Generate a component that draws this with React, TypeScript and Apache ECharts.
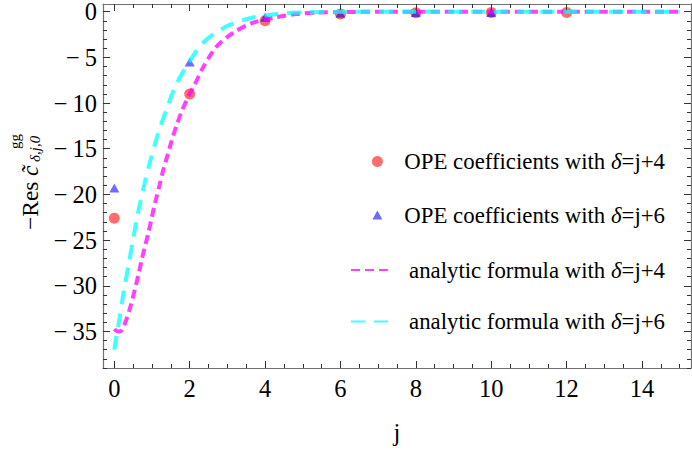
import React, { useEffect, useRef } from "react";
import * as echarts from "echarts";

// ---- data ----
const opeJ4 = [0, 2, 4, 6, 8, 10, 12];
const opeV4 = [-22.6, -9.0, -1.0, -0.25, -0.12, -0.1, -0.1];
const opeJ6 = [0, 2, 4, 6, 8, 10];
const opeV6 = [-19.3, -5.5, -0.6, -0.18, -0.1, -0.08];

const anaJ4 = [0, 0.06, 0.12, 0.2, 0.32, 0.44, 0.54, 0.64, 0.73, 0.82, 0.91, 1.0, 1.09, 1.2, 1.3, 1.4, 1.51, 1.64, 1.79, 2.0, 2.13, 2.37, 2.72, 3.16, 3.69, 4.31, 4.84, 5.4, 6, 7, 8, 10, 12, 15];
const anaV4 = [-34.75, -34.95, -35.0, -34.85, -33.7, -32.1, -30.5, -28.8, -27.1, -25.6, -24.1, -22.4, -20.8, -19.0, -17.3, -15.9, -14.3, -12.6, -10.9, -9.0, -8.0, -6.0, -3.8, -2.3, -1.2, -0.6, -0.25, -0.1, -0.04, -0.01, 0, 0, 0, 0];
const anaJ6 = [0, 0.14, 0.25, 0.38, 0.5, 0.63, 0.78, 0.95, 1.15, 1.38, 1.64, 2.0, 2.38, 2.98, 3.6, 4.31, 5.0, 6, 7, 8, 10, 12, 15];
const anaV6 = [-37.0, -33.5, -30.6, -27.7, -24.9, -22.0, -19.2, -16.4, -13.5, -10.75, -8.0, -5.4, -3.3, -1.6, -0.72, -0.25, -0.08, -0.02, 0, 0, 0, 0, 0];

const xMajorTicks = [0, 2, 4, 6, 8, 10, 12, 14];
const xMinorTicks = [0.5, 1, 1.5, 2.5, 3, 3.5, 4.5, 5, 5.5, 6.5, 7, 7.5, 8.5, 9, 9.5, 10.5, 11, 11.5, 12.5, 13, 13.5, 14.5, 15];
const yMajorTicks = [-35, -30, -25, -20, -15, -10, -5, 0];
const yMinorTicks = [-39, -38, -37, -36, -34, -33, -32, -31, -29, -28, -27, -26, -24, -23, -22, -21, -19, -18, -17, -16, -14, -13, -12, -11, -9, -8, -7, -6, -4, -3, -2, -1];

const names = [
  "OPE coefficients with \u03b4=j+4",
  "OPE coefficients with \u03b4=j+6",
  "analytic formula with \u03b4=j+4",
  "analytic formula with \u03b4=j+6",
];

const FONT = "Liberation Serif";
const LABEL_FONT = "24.5px 'Liberation Serif', serif";
const FRAME = "#707070";
const TICK = "#333";

const pairs = (xs: number[], ys: number[]) => xs.map((x, i) => [x, ys[i]]);
const fmtY = (v: number) => (Math.round(v) === 0 ? "0" : "\u2212\u2009" + Math.abs(Math.round(v)));

export default function App() {
  const ref = useRef<HTMLDivElement>(null);
  useEffect(() => {
    if (!ref.current) return;
    const chart = echarts.init(ref.current, undefined, { renderer: "svg" });
    const xRange = { min: -0.3, max: 15.3 };
    const yRange = { min: -39, max: 0.84 };
    const xAx = (position: string, ticks: number[], len: number, main: boolean) => ({
      type: "value",
      ...xRange,
      position,
      axisLine: { show: main, onZero: false, lineStyle: { color: FRAME, width: 1.2 } },
      axisTick: { show: true, inside: true, length: len, customValues: ticks, lineStyle: { color: TICK, width: 1 } },
      axisLabel: { show: false },
      splitLine: { show: false },
      ...(main && position === "bottom"
        ? { name: "j", nameLocation: "middle", nameGap: 52, nameTextStyle: { fontFamily: FONT, fontSize: 24.5, color: "#000" } }
        : {}),
    });
    const yAx = (position: string, ticks: number[], len: number, main: boolean) => ({
      type: "value",
      ...yRange,
      position,
      axisLine: { show: main, onZero: false, lineStyle: { color: FRAME, width: 1.2 } },
      axisTick: { show: true, inside: true, length: len, customValues: ticks, lineStyle: { color: TICK, width: 1 } },
      axisLabel: { show: false },
      splitLine: { show: false },
    });

    const legendText = (name: string) => {
      const parts = name.split("\u03b4");
      return "{n|" + parts[0] + "}{d|\u03b4}{n|" + parts[1] + "}";
    };
    const rich = {
      n: { fontFamily: FONT, fontSize: 22.8, color: "#000" },
      d: { fontFamily: FONT, fontSize: 22.8, fontStyle: "italic", color: "#000" },
    };
    const mkLegend = (name: string, top: number, w: number, h: number, pad: number) => ({
      data: [name],
      right: 27,
      top,
      padding: 0,
      itemWidth: w,
      itemHeight: h,
      selectedMode: false,
      formatter: legendText,
      textStyle: { fontFamily: FONT, fontSize: 22.8, color: "#000", padding: [0, 0, 0, pad], rich },
    });

    chart.setOption({
      animation: false,
      backgroundColor: "#fff",
      textStyle: { fontFamily: FONT, fontSize: 23, color: "#000" },
      tooltip: { show: false },
      grid: { left: 103, right: 1, top: 4, bottom: 84, containLabel: false, outerBoundsMode: "none" },
      xAxis: [
        xAx("bottom", xMajorTicks, 7, true),
        xAx("bottom", xMinorTicks, 4, false),
        xAx("top", xMajorTicks, 7, true),
        xAx("top", xMinorTicks, 4, false),
      ],
      yAxis: [
        yAx("left", yMajorTicks, 7, true),
        yAx("left", yMinorTicks, 4, false),
        yAx("right", yMajorTicks, 7, true),
        yAx("right", yMinorTicks, 4, false),
      ],
      legend: [
        mkLegend(names[0], 150, 11, 11, 16.5),
        mkLegend(names[1], 203.5, 10, 9, 17),
        mkLegend(names[2], 258.5, 40, 14, 13),
        mkLegend(names[3], 310, 40, 14, 13),
      ],
      graphic: [
        {
          type: "group",
          x: 0,
          y: 230,
          rotation: Math.PI / 2,
          children: [
            { type: "text", style: { text: "\u2212Res ", x: 0, y: 30, font: "23.5px 'Liberation Serif'", fill: "#000", textVerticalAlign: "middle" } },
            { type: "text", style: { text: "c\u0303", x: 54, y: 30, font: "italic 23.5px 'Liberation Serif'", fill: "#000", textVerticalAlign: "middle" } },
            { type: "text", style: { text: "gg", x: 81, y: 14.5, font: "15px 'Liberation Serif'", fill: "#000", textVerticalAlign: "middle" } },
            { type: "text", style: { text: "\u03b4,j,0", x: 68, y: 35, font: "italic 15px 'Liberation Serif'", fill: "#000", textVerticalAlign: "middle" } },
          ],
        },
      ],
      series: [
        {
          name: names[0],
          type: "scatter",
          data: pairs(opeJ4, opeV4),
          symbol: "circle",
          symbolSize: 11,
          itemStyle: { color: "rgba(255,0,0,0.72)" },
          z: 3,
        },
        {
          name: names[1],
          type: "scatter",
          data: pairs(opeJ6, opeV6),
          symbol: "triangle",
          symbolSize: [10, 9],
          itemStyle: { color: "rgba(0,0,255,0.72)" },
          z: 3,
        },
        {
          name: names[2],
          type: "line",
          data: pairs(anaJ4, anaV4),
          showSymbol: false,
          symbol: "none",
          smooth: 0.3,
          lineStyle: { color: "rgba(255,0,255,0.75)", width: 4, type: [9, 5] },
          itemStyle: { color: "rgba(0,0,0,0)" },
          z: 4,
        },
        {
          name: names[3],
          type: "line",
          data: pairs(anaJ6, anaV6),
          showSymbol: false,
          symbol: "none",
          smooth: 0.3,
          lineStyle: { color: "rgba(0,255,255,0.75)", width: 4, type: [14, 9] },
          itemStyle: { color: "rgba(0,0,0,0)" },
          z: 4,
        },
        {
          name: "yTickLabels",
          type: "custom",
          silent: true,
          clip: false,
          data: yMajorTicks.map((v) => [0, v]),
          encode: { x: 0, y: 1 },
          renderItem: (params: any, api: any) => {
            const v = api.value(1);
            const p = api.coord([0, v]);
            return {
              type: "text",
              x: params.coordSys.x - 6,
              y: p[1],
              style: { text: fmtY(v), font: LABEL_FONT, fill: "#000", align: "right", verticalAlign: "middle", textAlign: "right", textVerticalAlign: "middle" },
            };
          },
        },
        {
          name: "xTickLabels",
          type: "custom",
          silent: true,
          clip: false,
          data: xMajorTicks.map((v) => [v, 0]),
          encode: { x: 0, y: 1 },
          renderItem: (params: any, api: any) => {
            const v = api.value(0);
            const p = api.coord([v, 0]);
            return {
              type: "text",
              x: p[0],
              y: params.coordSys.y + params.coordSys.height + 8,
              style: { text: String(v), font: LABEL_FONT, fill: "#000", align: "center", verticalAlign: "top", textAlign: "center", textVerticalAlign: "top" },
            };
          },
        },
      ],
    });
    return () => chart.dispose();
  }, []);
  return <div ref={ref} style={{ width: 692, height: 452, position: "absolute", left: 0, top: 0 }} />;
}
